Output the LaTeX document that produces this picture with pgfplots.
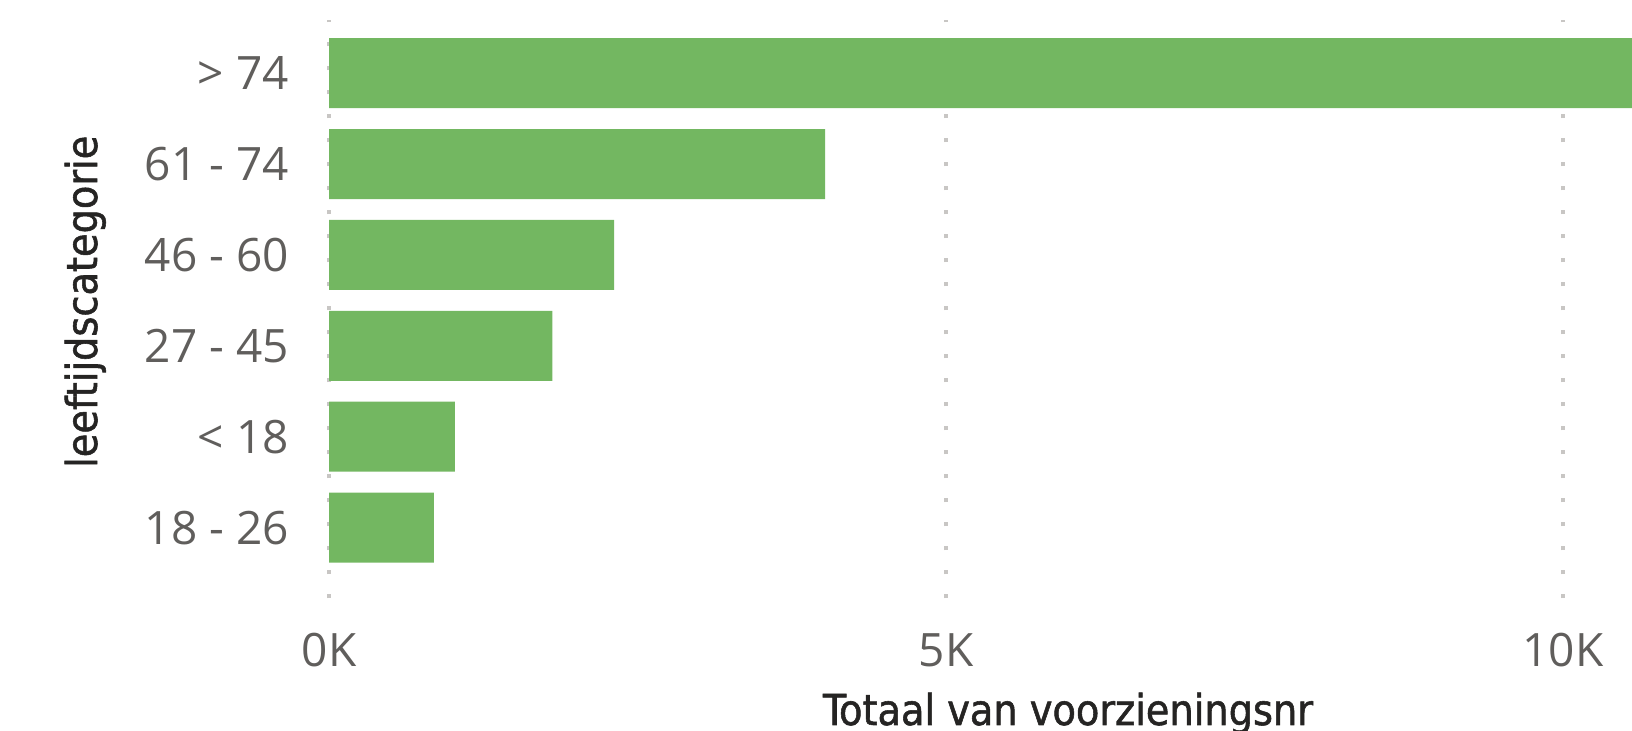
\documentclass[border=0pt]{standalone}
\usepackage{fontspec}
\setmainfont{Open Sans}
\newfontfamily\titlefont[FakeBold=1.3]{DejaVu Sans Condensed}
\usepackage{pgfplots}
\pgfplotsset{compat=1.18}
\definecolor{bargreen}{HTML}{73B761}
\definecolor{ticktext}{HTML}{605E5C}
\definecolor{titletext}{HTML}{252423}
\definecolor{gridgray}{HTML}{C8C6C4}

% one pixel of the reference = 0.5pt
\pgfplotstableread{
y x
0 850
1 1020
2 1810
3 2310
4 4020
5 11500
}\agedata

\begin{document}
\begin{tikzpicture}
\begin{axis}[
    at={(164.5pt,66.25pt)}, anchor=south west,
    scale only axis,
    width=651.5pt, height=289pt,
    xbar, bar width=0.77,
    xmin=0, xmax=10560,
    ymin=-0.78, ymax=5.58,
    axis line style={draw=none},
    major tick length=0pt,
    xtick={0,5000,10000},
    xticklabels={0K,5K,10K},
    ytick={0,1,2,3,4,5},
    yticklabels={18 - 26,< 18,27 - 45,46 - 60,61 - 74,> 74},
    ticklabel style={font=\fontsize{23}{27}\selectfont, text=ticktext},
    xticklabel style={anchor=base, yshift=-33.8pt},
    yticklabel style={anchor=east, inner sep=0pt, xshift=-19.9pt},
    xmajorgrids,
    grid style={gridgray, line width=2pt, dash pattern=on 2pt off 10pt},
]
\addplot[fill=bargreen, draw=none] table[x=x, y=y] {\agedata};
\end{axis}
\node[anchor=base, text=titletext, font=\titlefont\fontsize{21.3}{25}\selectfont] at (534pt,3pt) {Totaal van voorzieningsnr};
\node[anchor=base, rotate=90, text=titletext, font=\titlefont\fontsize{21.3}{25}\selectfont] at (48.5pt,214.6pt) {leeftijdscategorie};
\pgfresetboundingbox
\useasboundingbox (0,0) rectangle (816pt,365.5pt);
\end{tikzpicture}
\end{document}
